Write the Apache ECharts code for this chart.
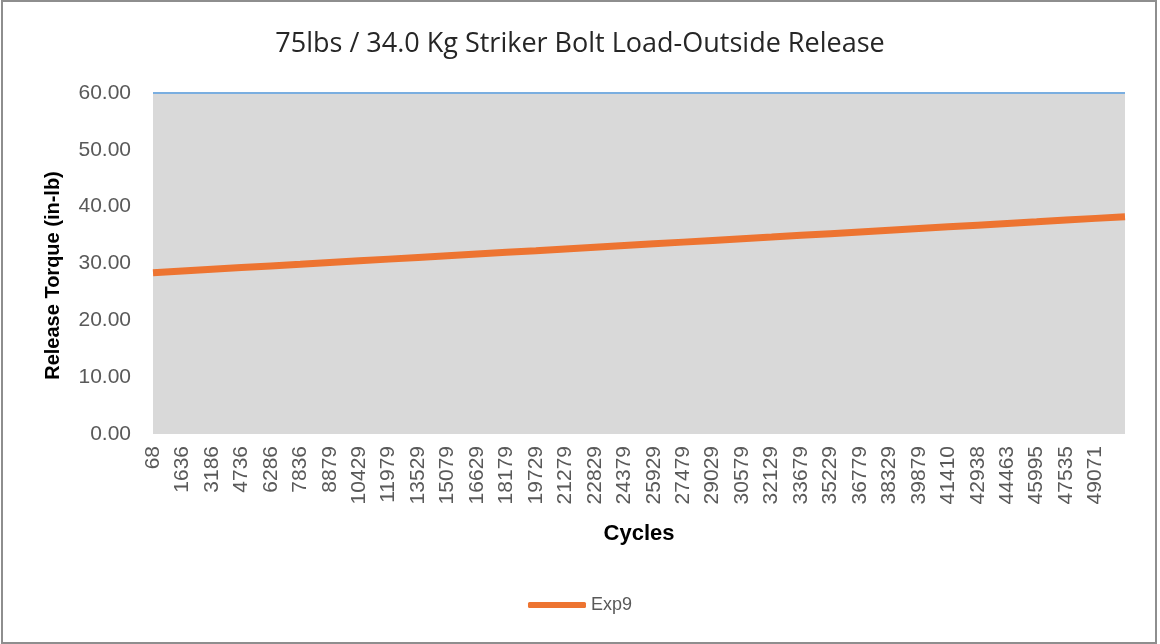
<!DOCTYPE html>
<html>
<head>
<meta charset="utf-8">
<script src="https://cdn.jsdelivr.net/npm/echarts@6/dist/echarts.min.js"></script>
<style>
  html, body { margin: 0; padding: 0; background: #fff; }
  #frame { position: absolute; left: 1px; top: 0; width: 1156px; height: 644px; box-sizing: border-box; border: 2px solid #8e8e8e; }
  #main { position: absolute; left: 0; top: 0; width: 1160px; height: 644px; }
</style>
</head>
<body>
<div id="frame"></div>
<div id="main"></div>
<script>
// cycle labels on the category axis (last one past the final tick is unlabeled)
var cycles = ['68', '1636', '3186', '4736', '6286', '7836', '8879', '10429', '11979', '13529',
  '15079', '16629', '18179', '19729', '21279', '22829', '24379', '25929', '27479', '29029',
  '30579', '32129', '33679', '35229', '36779', '38329', '39879', '41410', '42938', '44463',
  '45995', '47535', '49071', '']
// Exp9 release torque (in-lb)
var exp9 = [28.38, 28.68, 28.98, 29.28, 29.58, 29.87, 30.17, 30.47, 30.77, 31.07,
  31.37, 31.67, 31.97, 32.26, 32.56, 32.86, 33.16, 33.46, 33.76, 34.06,
  34.36, 34.65, 34.95, 35.25, 35.55, 35.85, 36.15, 36.45, 36.75, 37.05,
  37.34, 37.64, 37.94, 38.24]
// upper limit band drawn as grey area with blue edge
var limit = cycles.map(function () { return 60 })
var yTicks = { min: 0, max: 60, interval: 10 }

var chart = echarts.init(document.getElementById('main'))
chart.setOption({
  animation: false,
  title: {
    text: '75lbs / 34.0 Kg Striker Bolt Load-Outside Release',
    left: 'center',
    top: 26,
    textStyle: {
      fontFamily: 'Open Sans',
      fontSize: 27,
      fontWeight: 'normal',
      color: '#262626'
    }
  },
  legend: {
    data: [{ name: 'Exp9', icon: 'roundRect' }],
    bottom: 25,
    left: 'center',
    itemWidth: 58,
    itemHeight: 6,
    itemGap: 4,
    textStyle: { fontFamily: 'Liberation Sans', fontSize: 18, color: '#595959' }
  },
  grid: {
    left: 153,
    right: 35,
    top: 93,
    bottom: 210
  },
  xAxis: {
    type: 'category',
    data: cycles,
    boundaryGap: false,
    name: 'Cycles',
    nameLocation: 'middle',
    nameGap: 89,
    nameTextStyle: { fontFamily: 'Liberation Sans', fontSize: 22, fontWeight: 'bold', color: '#000' },
    axisLine: { show: false },
    axisTick: { show: false },
    axisLabel: {
      interval: 0,
      rotate: 90,
      margin: 12,
      fontFamily: 'Liberation Sans',
      fontSize: 21,
      color: '#595959'
    },
    splitLine: { show: false }
  },
  yAxis: {
    type: 'value',
    min: yTicks.min,
    max: yTicks.max,
    interval: yTicks.interval,
    name: 'Release Torque (in-lb)',
    nameLocation: 'middle',
    nameGap: 90,
    nameTextStyle: { fontFamily: 'Liberation Sans', fontSize: 20, fontWeight: 'bold', color: '#000', padding: [0, 24, 0, 0] },
    axisLine: { show: false },
    axisTick: { show: false },
    splitLine: { show: false },
    axisLabel: {
      margin: 22,
      fontFamily: 'Liberation Sans',
      fontSize: 21,
      color: '#595959',
      formatter: function (v) { return v.toFixed(2) }
    }
  },
  series: [
    {
      name: 'Limit',
      type: 'line',
      data: limit,
      symbol: 'none',
      lineStyle: { color: '#7aaee0', width: 2 },
      areaStyle: { color: '#d9d9d9', opacity: 1 },
      z: 1,
      silent: true
    },
    {
      name: 'Exp9',
      type: 'line',
      data: exp9,
      symbol: 'none',
      color: '#ed7431',
      lineStyle: { color: '#ed7431', width: 7 },
      z: 3
    }
  ]
})
</script>
</body>
</html>
